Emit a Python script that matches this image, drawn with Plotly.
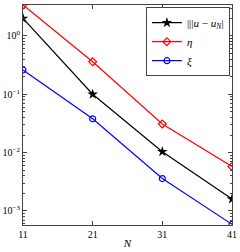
import plotly.graph_objects as go

N = [11, 21, 31, 41]
err = [2.0, 0.10, 0.0104, 0.0016]
eta = [3.4, 0.36, 0.031, 0.0058]
xi = [0.26, 0.038, 0.0036, 0.00059]

ytickvals = [1e-3, 1e-2, 1e-1, 1e0]
yticktext = ["10<sup>−3</sup>", "10<sup>−2</sup>", "10<sup>−1</sup>", "10<sup>0</sup>"]
xtickvals = [11, 21, 31, 41]

fig = go.Figure()
fig.add_trace(go.Scatter(x=N, y=err, mode="lines+markers", name="|||<i>u</i> − <i>u</i><sub><i>N</i></sub>|",
                         line=dict(color="black", width=1.2),
                         marker=dict(symbol="star", size=8, color="black")))
fig.add_trace(go.Scatter(x=N, y=eta, mode="lines+markers", name="<i>η</i>",
                         line=dict(color="red", width=1.2),
                         marker=dict(symbol="diamond-open", size=6, color="red", line=dict(width=1.2))))
fig.add_trace(go.Scatter(x=N, y=xi, mode="lines+markers", name="<i>ξ</i>",
                         line=dict(color="blue", width=1.2),
                         marker=dict(symbol="circle-open", size=6, color="blue", line=dict(width=1.2))))

axis_common = dict(showline=True, linecolor="#444", linewidth=1, mirror="ticks",
                   ticks="inside", ticklen=4, tickcolor="#444", showgrid=False, zeroline=False,
                   automargin=False,
                   tickfont=dict(family="Liberation Serif", size=10, color="black"))

fig.update_xaxes(range=[11, 41], tickvals=xtickvals, ticktext=[str(v) for v in xtickvals],
                 title=dict(text="<i>N</i>", standoff=0, font=dict(family="Liberation Serif", size=11)),
                 **axis_common)
fig.update_yaxes(type="log", range=[-3.24, 0.53], tickvals=ytickvals, ticktext=yticktext,
                 minor=dict(ticks="inside", ticklen=2, tickcolor="#444", showgrid=False, dtick="D1"),
                 **axis_common)

fig.update_layout(width=240, height=252, margin=dict(l=23, r=8, t=5, b=27, autoexpand=False),
                  paper_bgcolor="white", plot_bgcolor="white", showlegend=True,
                  font=dict(family="Liberation Serif", size=10, color="black"),
                  legend=dict(x=0.99, y=0.99, xanchor="right", yanchor="top",
                              bgcolor="white", bordercolor="#444", borderwidth=1,
                              font=dict(family="Liberation Serif", size=11),
                              tracegroupgap=0, itemwidth=30))

fig.write_html("out.html", config={"displayModeBar": False},
               post_script="document.body.style.margin='0';document.body.style.overflow='hidden';")
